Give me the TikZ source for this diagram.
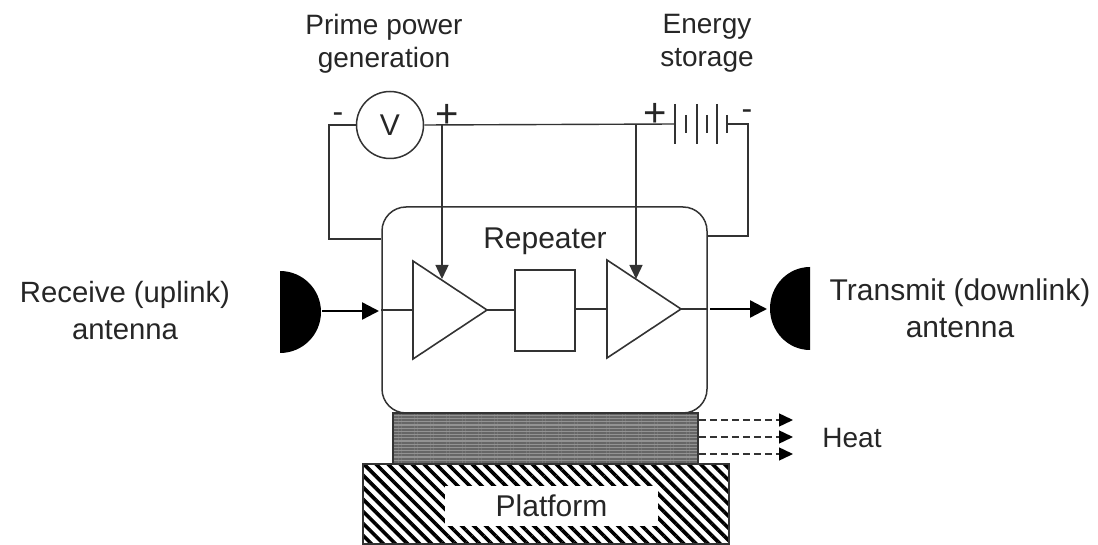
\documentclass[tikz,border=0pt]{standalone}
\usepackage{xcolor}
\usepackage{fontspec}
\setmainfont{Liberation Sans}
\usetikzlibrary{arrows.meta,calc,patterns.meta,shapes.geometric}
\definecolor{satline}{HTML}{333333}
\definecolor{sattext}{HTML}{262626}
\tikzset{
    wire/.style={color=satline, line width=1.4pt},
    bigtext/.style={align=center, inner sep=0pt, text=sattext, font=\fontsize{28pt}{33pt}\selectfont},
    widetext/.style={align=center, inner sep=0pt, text=sattext, font=\fontsize{30pt}{37pt}\selectfont},
    signtext/.style={inner sep=0pt, text=sattext, font=\fontsize{40pt}{40pt}\selectfont},
    dashtext/.style={inner sep=0pt, text=sattext, font=\fontsize{32pt}{32pt}\selectfont},
    ampbox/.style={draw=satline, line width=1.6pt, shape=isosceles triangle, isosceles triangle stretches=true,
        shape border rotate=0, minimum width=98pt, minimum height=74pt, inner sep=0pt, outer sep=0pt, anchor=lower side},
    feedarrow/.style={wire, -{Triangle[length=14pt,width=13pt]}},
    sigarrow/.style={color=black, line width=2.4pt, -{Triangle[length=17pt,width=17pt]}},
    heatarrow/.style={color=satline, line width=1.4pt, dash pattern=on 7pt off 4pt, -{Triangle[length=14pt,width=13pt,color=black]}},
    dish/.style={fill=black}
}
\begin{document}
\begin{tikzpicture}[x=1pt, y=-1pt]
        \useasboundingbox (0,0) rectangle (1098,545);

        % ----------------------------------------------------
        % Labels
        % ----------------------------------------------------
        \node[bigtext] (primelabel) at (384, 44) {Prime power\\generation};
        \node[bigtext] (storelabel) at (707, 43) {Energy\\storage};
        \node[bigtext, font=\fontsize{29.3pt}{37pt}\selectfont] (rxlabel) at (125, 311) {Receive (uplink)\\antenna};
        \node[widetext] (txlabel) at (960, 308) {Transmit (downlink)\\antenna};
        \node[bigtext] (heatlabel) at (852, 438) {Heat};

        % ----------------------------------------------------
        % Repeater
        % ----------------------------------------------------
        \node[draw=satline, line width=1.5pt, rounded corners=24pt, minimum width=325pt, minimum height=206pt, inner sep=0pt] (repbox) at (544.5, 310) {};
        \node[widetext] (replabel) at (545, 241) {Repeater};
        \node[ampbox] (ampa) at (413, 310) {};
        \node[ampbox] (ampb) at (607, 309) {};
        \node[draw=satline, line width=1.5pt, minimum width=60pt, minimum height=81pt, inner sep=0pt] (filterbox) at (545, 310.5) {};
        \draw[wire] (repbox.west |- ampa.lower side) -- (ampa.lower side);
        \draw[wire] (ampa.apex) -- (filterbox.west |- ampa.apex);
        \draw[wire] (filterbox.east |- ampb.lower side) -- (ampb.lower side);
        \draw[wire] (ampb.apex) -- (repbox.east |- ampb.apex);

        % ----------------------------------------------------
        % Power bus
        % ----------------------------------------------------
        \node[circle, draw=satline, line width=1.5pt, minimum size=67pt, inner sep=0pt, text=sattext, font=\fontsize{30pt}{33pt}\selectfont] (vgen) at (390, 125) {V};
        \coordinate (batl) at (675, 124);
        \coordinate (batr) at (727, 124);
        \coordinate (wirel) at (329, 239);
        \coordinate (wirer) at (748, 236);
        \coordinate (tapa) at (442, 124);
        \coordinate (tapb) at (636, 124);
        \coordinate (tipa) at (442, 279);
        \coordinate (tipb) at (636, 279);
        \draw[wire] (vgen.east) -- (batl);
        \draw[wire] (vgen.west) -| (wirel) -- (wirel -| repbox.west);
        \draw[wire] (batr) -| (wirer) -- (wirer -| repbox.east);
        \draw[feedarrow] (tapa) -- (tipa);
        \draw[feedarrow] (tapb) -- (tipb);
        \foreach \px in {675, 697, 717} {
            \draw[wire] (\px, 104) -- (\px, 144);
        }
        \foreach \px in {686, 707, 727} {
            \draw[wire] (\px, 115) -- (\px, 133);
        }
        \node[dashtext] (minusa) at (338, 118) {-};
        \node[signtext] (plusa) at (447, 116) {+};
        \node[signtext] (plusb) at (655, 115) {+};
        \node[dashtext] (minusb) at (747, 115) {-};

        % ----------------------------------------------------
        % Antennas
        % ----------------------------------------------------
        \fill[dish] (280, 271) arc[start angle=-90, end angle=90, x radius=41, y radius=41] -- cycle;
        \fill[dish] (810, 267) arc[start angle=-90, end angle=-270, x radius=40, y radius=41.5] -- cycle;
        \coordinate (rxout) at (322, 311);
        \coordinate (rxin) at (379, 311);
        \coordinate (txout) at (710, 309);
        \coordinate (txin) at (767, 309);
        \draw[sigarrow] (rxout) -- (rxin);
        \draw[sigarrow] (txout) -- (txin);

        % ----------------------------------------------------
        % Radiator and platform
        % ----------------------------------------------------
        \node[draw=satline, line width=1.5pt, minimum width=305pt, minimum height=51pt, inner sep=0pt,
            preaction={fill=gray!85}, pattern={Lines[angle=0, distance=3.2pt, line width=1.9pt]}, pattern color=black!60] (radiator) at (545.5, 438.5) {};
        \node[draw=satline, line width=1.5pt, minimum width=366pt, minimum height=80pt, inner sep=0pt,
            pattern={Lines[angle=-45, distance=8.5pt, line width=3.6pt]}, pattern color=black] (platform) at (546, 504) {};
        \node[fill=white, minimum width=213pt, minimum height=40pt, inner sep=0pt, text=sattext, font=\fontsize{30pt}{33pt}\selectfont] (platlabel) at (551.5, 506) {Platform};
        \foreach \py in {420, 437, 454} {
            \coordinate (heatend) at (793, \py);
            \draw[heatarrow] (radiator.east |- heatend) -- (heatend);
        }
    \end{tikzpicture}
\end{document}
